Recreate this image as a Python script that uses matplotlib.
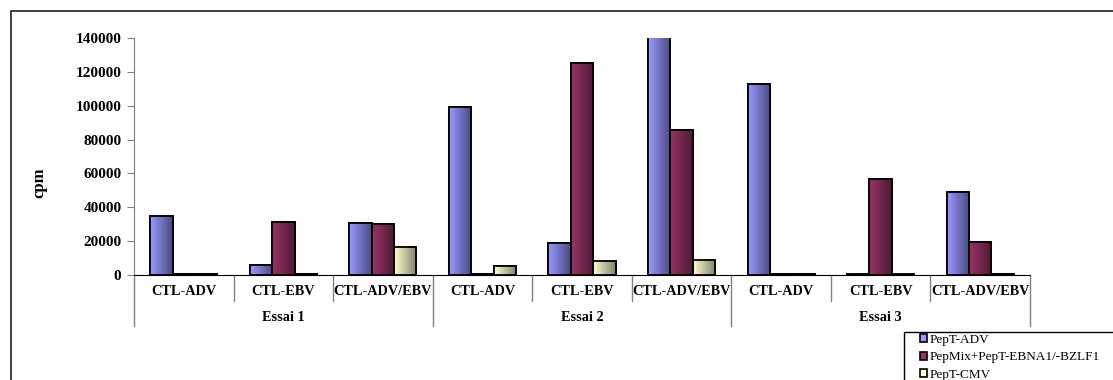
import numpy as np
import matplotlib
matplotlib.use('Agg')
import matplotlib.pyplot as plt
from matplotlib.colors import LinearSegmentedColormap
from matplotlib.patches import Rectangle
from matplotlib.transforms import blended_transform_factory

categories = ['CTL-ADV', 'CTL-EBV', 'CTL-ADV/EBV'] * 3
groups = ['Essai 1', 'Essai 2', 'Essai 3']
series = ['PepT-ADV', 'PepMix+PepT-EBNA1/-BZLF1', 'PepT-CMV']
pept_adv = [35000, 5900, 30500, 99000, 18700, 150000, 113000, 800, 48900]
pepmix_ebv = [300, 31500, 30000, 500, 125000, 85500, 800, 57000, 19500]
pept_cmv = [300, 500, 16700, 5300, 8400, 8900, 300, 800, 300]
yticks = [0, 20000, 40000, 60000, 80000, 100000, 120000, 140000]

light = ['#9999ff', '#993366', '#ffffcc']
dark = ['#4a4a80', '#4d1a33', '#80806a']

plt.rcParams['font.family'] = ['Liberation Serif', 'DejaVu Serif']

fig = plt.figure(figsize=(11.13, 3.80), dpi=100)
# outer chart frame (cut off on the right and bottom)
fig.patches.append(Rectangle((11 / 1113, -0.1), 1.2, 1 - 11 / 380 + 0.1, transform=fig.transFigure,
                             fill=False, edgecolor='#222222', linewidth=1.2))
ax = fig.add_axes([134 / 1113, 105 / 380, 896 / 1113, 237 / 380])
ymax = 140000
ax.set_xlim(-0.5, len(categories) - 0.5)
ax.set_ylim(0, ymax)

x = np.arange(len(categories))
w = 0.225
grad = np.linspace(0, 1, 64).reshape(1, -1)
for k, vals in enumerate([pept_adv, pepmix_ebv, pept_cmv]):
    bars = ax.bar(x + (k - 1) * w, vals, w, color=light[k], edgecolor='black', linewidth=1.3,
                  label=series[k], zorder=3)
    cmap = LinearSegmentedColormap.from_list('g%d' % k, [light[k], dark[k]])
    for b in bars:
        x0, y0 = b.get_x(), b.get_y()
        top = min(y0 + b.get_height(), ymax)
        ax.imshow(grad, cmap=cmap, aspect='auto', zorder=3.5,
                  extent=[x0, x0 + b.get_width(), y0, top])
        ax.add_patch(Rectangle((x0, y0), b.get_width(), b.get_height(), fill=False,
                               edgecolor='black', linewidth=1.3, zorder=4))
ax.set_xlim(-0.5, len(categories) - 0.5)
ax.set_ylim(0, ymax)

ax.set_yticks(yticks)
ax.set_yticklabels([str(v) for v in yticks], fontweight='bold', fontsize=11)
ax.tick_params(axis='y', length=5, color='#808080', direction='out', pad=4)
ax.set_xticks([])
for s in ['top', 'right']:
    ax.spines[s].set_visible(False)
ax.spines['left'].set_color('#808080')
ax.spines['bottom'].set_color('black')
ax.spines['bottom'].set_zorder(5)
ax.set_ylabel('cpm', fontweight='bold', fontsize=12)
ax.yaxis.set_label_coords(-0.097, 0.39)

tr = blended_transform_factory(ax.transData, ax.transAxes)
for i in range(len(categories) + 1):
    bx = i - 0.5
    low = -0.215 if i % 3 == 0 else -0.108
    ax.plot([bx, bx], [0, low], transform=tr, color='#808080', linewidth=1, clip_on=False)
for i, c in enumerate(categories):
    ax.text(i, -0.07, c, transform=tr, ha='center', va='center', fontweight='bold', fontsize=10.3)
for g, name in enumerate(groups):
    ax.text(3 * g + 1, -0.18, name, transform=tr, ha='center', va='center', fontweight='bold', fontsize=10.3)

# legend box (cut off on the right and bottom)
fig.patches.append(Rectangle((904 / 1113, -0.1), 0.3, 0.1 + 1 - 332 / 380, transform=fig.transFigure,
                             fill=False, edgecolor='black', linewidth=1))
handles = [Rectangle((0, 0), 1, 1, facecolor=light[k], edgecolor='black', linewidth=1.2) for k in range(3)]
fig.legend(handles, series, loc='upper left', bbox_to_anchor=(920 / 1113, 1 - 334 / 380),
           fontsize=9.5, frameon=False, handlelength=0.55, handleheight=0.55,
           handletextpad=0.2, labelspacing=0.4, borderpad=0, borderaxespad=0)

fig.savefig('out.png', dpi=100)
